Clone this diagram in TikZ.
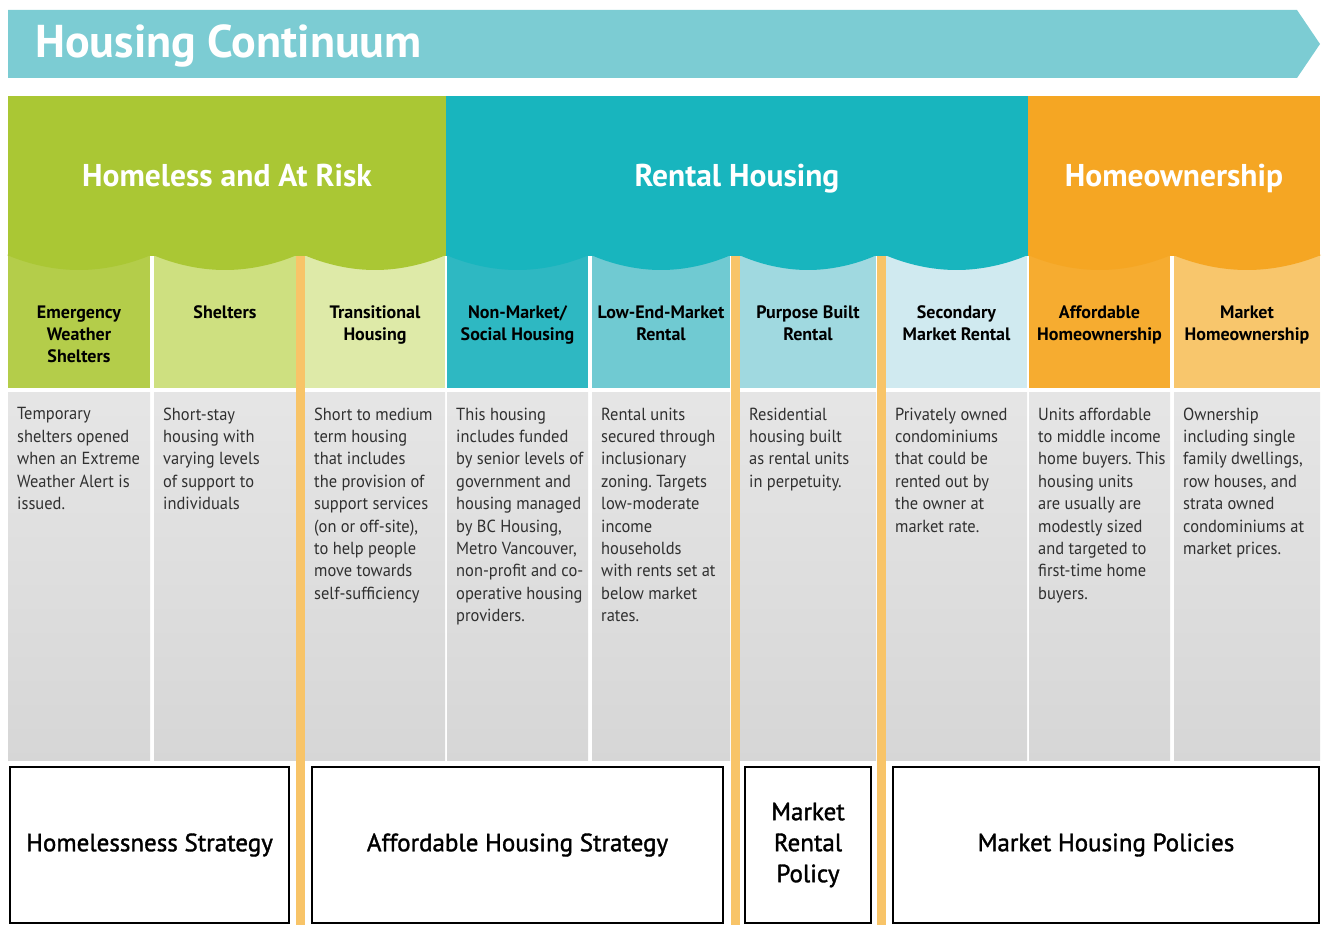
\documentclass[tikz,border=0pt]{standalone}
\usepackage{fontspec}
\setmainfont{PT Sans}[FakeStretch=0.94]
\newfontfamily\titlefont{PT Sans}
\newfontfamily\policyfont{PT Sans}[FakeBold=1.4]
\usetikzlibrary{positioning}
\frenchspacing
\definecolor{arrowteal}{RGB}{124,204,211}
\definecolor{riskgreen}{RGB}{170,199,52}
\definecolor{rentteal}{RGB}{24,181,190}
\definecolor{ownorange}{RGB}{245,166,35}
\definecolor{dividerorange}{RGB}{248,196,104}
\definecolor{textgray}{RGB}{48,48,48}
% tints of the sub columns
\definecolor{tintA}{RGB}{180,205,74}
\definecolor{tintB}{RGB}{206,224,128}
\definecolor{tintC}{RGB}{222,234,168}
\definecolor{tintD}{RGB}{46,184,194}
\definecolor{tintE}{RGB}{112,202,210}
\definecolor{tintF}{RGB}{160,217,224}
\definecolor{tintG}{RGB}{208,234,240}
\definecolor{tintH}{RGB}{246,172,48}
\definecolor{tintI}{RGB}{248,198,108}

\tikzset{
    grouptitle/.style={text=white, font=\titlefont\bfseries\fontsize{31.5}{36}\selectfont, anchor=base, inner sep=0pt},
    subhead/.style={text=black, font=\titlefont\bfseries\fontsize{18}{22}\selectfont, align=center, anchor=north, inner sep=0pt},
    desc/.style={text=textgray, font=\fontsize{17.5}{22.4}\selectfont\frenchspacing, align=left, anchor=north west, inner sep=0pt},
    policybox/.style={draw=black, line width=1.6pt, fill=white, align=center, inner sep=0pt,
        font=\policyfont\fontsize{25}{31}\selectfont},
    descfill/.style={top color=gray!20, bottom color=gray!32}
}

\begin{document}
\begin{tikzpicture}[x=1pt, y=-1pt]
    \useasboundingbox (0,0) rectangle (1322,925);

    % continuum arrow
    \fill[arrowteal] (8,10) -- (1297,10) -- (1320,44) -- (1297,78) -- (8,78) -- cycle;
    \node[text=white, font=\titlefont\bfseries\fontsize{46}{52}\selectfont, anchor=base west, inner sep=0pt]
        (continuum) at (35,58) {Housing Continuum};

    % sub columns
    \foreach \xl/\xr/\tint/\grp/\head/\txt [count=\i] in {
        8/150/tintA/riskgreen/{Emergency\\Weather\\Shelters}/{Temporary\\shelters opened\\when an Extreme\\Weather Alert is\\issued.},
        154/296/tintB/riskgreen/{Shelters}/{Short-stay\\housing with\\varying levels\\of support to\\individuals},
        305/445/tintC/riskgreen/{Transitional\\Housing}/{Short to medium\\term housing\\that includes\\the provision of\\support services\\(on or off-site),\\to help people\\move towards\\self-sufficiency},
        447/588/tintD/rentteal/{Non-Market/\\Social Housing}/{This housing\\includes funded\\by senior levels of\\government and\\housing managed\\by BC Housing,\\Metro Vancouver,\\non-profit and co-\\operative housing\\providers.},
        592/730/tintE/rentteal/{Low-End-Market\\Rental}/{Rental units\\secured through\\inclusionary\\zoning. Targets\\low-moderate\\income\\households\\with rents set at\\below market\\rates.},
        740/876/tintF/rentteal/{Purpose Built\\Rental}/{Residential\\housing built\\as rental units\\in perpetuity.},
        886/1027/tintG/rentteal/{Secondary\\Market Rental}/{Privately owned\\condominiums\\that could be\\rented out by\\the owner at\\market rate.},
        1029/1170/tintH/ownorange/{Affordable\\Homeownership}/{Units affordable\\to middle income\\home buyers. This\\housing units\\are usually are\\modestly sized\\and targeted to\\first-time home\\buyers.},
        1174/1320/tintI/ownorange/{Market\\Homeownership}/{Ownership\\including single\\family dwellings,\\row houses, and\\strata owned\\condominiums at\\market prices.}}
    {
        \pgfmathsetmacro\xc{(\xl+\xr)/2}
        \fill[\tint] (\xl,256) rectangle (\xr,388);
        \fill[descfill] (\xl,392) rectangle (\xr,760);
        \fill[\grp] (\xl-1,255) parabola bend (\xc,270) (\xr+1,255) -- cycle;
        \node[subhead] (sub\i) at (\xc,305.5) {\head};
        \node[desc] (desc\i) at (\xl+9,407.5) {\txt};
    }

    % group headers
    \fill[riskgreen] (8,96) rectangle (446,256);
    \fill[rentteal] (446,96) rectangle (1028,256);
    \fill[ownorange] (1028,96) rectangle (1320,256);
    \node[grouptitle] (risk) at (227,187) {Homeless and At Risk};
    \node[grouptitle] (rental) at (737,187) {Rental Housing};
    \node[grouptitle] (owner) at (1174,187) {Homeownership};

    % orange dividers
    \foreach \xd in {300.5,735,881}
        \fill[dividerorange] (\xd-4.5,256) rectangle (\xd+4.5,925);

    % policies
    \node[policybox, minimum width=279pt, minimum height=156pt] (homeless) at (149.5,845) {Homelessness Strategy};
    \node[policybox, minimum width=411pt, minimum height=156pt] (affordable) at (517.5,845) {Affordable Housing Strategy};
    \node[policybox, minimum width=126pt, minimum height=156pt] (mrental) at (808,845) {Market\\Rental\\Policy};
    \node[policybox, minimum width=426pt, minimum height=156pt] (mhousing) at (1106,845) {Market Housing Policies};
\end{tikzpicture}
\end{document}
